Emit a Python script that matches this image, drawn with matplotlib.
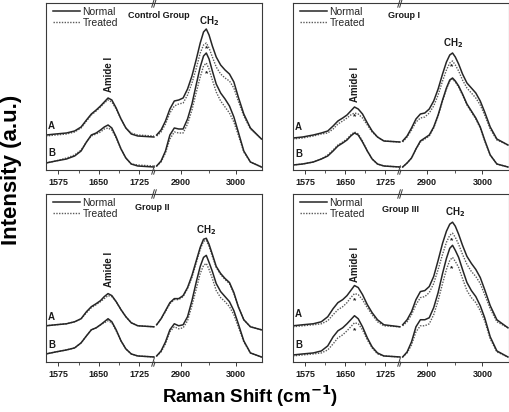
import matplotlib
matplotlib.use("Agg")
import matplotlib.pyplot as plt
from matplotlib.lines import Line2D

plt.rcParams['font.family'] = ['Liberation Sans', 'DejaVu Sans']

# ---------------- data ----------------
xl = [1552, 1570, 1590, 1605, 1617, 1627, 1636, 1645, 1653, 1660, 1667, 1674,
      1682, 1691, 1700, 1710, 1722, 1752]
xr = [2856, 2864, 2872, 2880, 2888, 2896, 2904, 2912, 2920, 2928, 2935, 2941,
      2946, 2951, 2957, 2964, 2972, 2980, 2988, 2996, 3004, 3014, 3026, 3046]

# Control Group
ctrl_A_norm_l = [35, 36, 37, 39, 43, 50, 56, 60, 64, 68, 72, 70, 62, 51, 42, 36, 34, 33]
ctrl_A_trt_l  = [34, 35, 36, 38, 42, 49, 55, 59, 63, 67, 70, 68, 61, 51, 42, 37, 35, 34]
ctrl_B_norm_l = [7, 9, 11, 14, 19, 28, 35, 37, 40, 43, 45, 42, 33, 21, 12, 6, 4, 3]
ctrl_B_trt_l  = [7, 9, 12, 15, 20, 28, 34, 36, 38, 41, 42, 40, 32, 21, 12, 6, 5, 4]
ctrl_A_norm_r = [35, 40, 49, 61, 69, 70, 72, 81, 94, 111, 127, 138, 141, 135, 124, 113,
                 105, 100, 96, 88, 73, 56, 42, 31]
ctrl_A_trt_r  = [34, 38, 46, 57, 64, 66, 67, 75, 87, 102, 117, 125, 127, 122, 113, 103,
                 96, 92, 89, 82, 69, 54, 41, 31]
ctrl_B_norm_r = [4, 9, 19, 35, 42, 41, 41, 51, 66, 86, 103, 114, 117, 111, 99, 86,
                 77, 71, 64, 53, 38, 19, 8, 3]
ctrl_B_trt_r  = [4, 8, 17, 31, 38, 37, 37, 46, 60, 78, 93, 104, 107, 101, 90, 78,
                 69, 63, 57, 48, 35, 18, 8, 3]

# Group I
g1_A_norm_l = [32, 33, 35, 37, 39, 44, 49, 52, 55, 59, 63, 61, 56, 47, 39, 33, 29, 28]
g1_A_trt_l  = [31, 32, 34, 36, 37, 41, 46, 49, 52, 55, 57, 56, 52, 45, 38, 33, 29, 28]
g1_B_norm_l = [5, 6, 8, 11, 14, 19, 24, 27, 30, 34, 37, 35, 28, 19, 11, 6, 4, 3]
g1_B_trt_l  = [5, 6, 8, 11, 15, 20, 25, 28, 31, 35, 38, 36, 29, 19, 11, 6, 4, 3]
g1_A_norm_r = [29, 34, 42, 51, 56, 57, 61, 69, 81, 96, 108, 115, 117, 113, 106, 96,
               87, 82, 77, 69, 58, 43, 31, 25]
g1_A_trt_r  = [28, 33, 40, 48, 52, 53, 57, 64, 75, 89, 100, 107, 109, 105, 99, 90,
               82, 77, 72, 65, 55, 41, 30, 25]
g1_B_norm_r = [3, 7, 12, 21, 29, 32, 35, 43, 55, 70, 82, 90, 92, 89, 84, 76,
               66, 59, 52, 43, 30, 15, 6, 3]
g1_B_trt_r  = [3, 7, 12, 21, 28, 31, 34, 42, 54, 69, 81, 89, 91, 88, 83, 75,
               65, 58, 51, 42, 29, 15, 6, 3]

# Group II
g2_A_norm_l = [36, 37, 38, 40, 43, 50, 55, 58, 61, 65, 68, 66, 60, 52, 45, 39, 36, 35]
g2_A_trt_l  = [36, 37, 38, 40, 43, 49, 54, 57, 60, 63, 66, 65, 60, 52, 45, 39, 36, 35]
g2_B_norm_l = [8, 10, 12, 14, 19, 26, 32, 34, 37, 40, 43, 40, 32, 21, 13, 8, 6, 5]
g2_B_trt_l  = [8, 10, 12, 14, 19, 26, 32, 34, 37, 39, 41, 39, 31, 21, 13, 8, 6, 5]
g2_A_norm_r = [37, 43, 51, 59, 63, 63, 66, 74, 86, 101, 114, 122, 123, 117, 107, 95,
               88, 83, 79, 69, 55, 42, 35, 32]
g2_A_trt_r  = [37, 43, 50, 58, 62, 62, 65, 73, 84, 99, 112, 120, 121, 115, 105, 94,
               87, 82, 78, 68, 55, 42, 35, 32]
g2_B_norm_r = [6, 11, 20, 32, 38, 36, 37, 45, 61, 80, 95, 104, 106, 99, 90, 78,
               70, 65, 60, 51, 38, 21, 9, 5]
g2_B_trt_r  = [6, 10, 18, 30, 35, 33, 34, 41, 56, 73, 88, 96, 98, 92, 83, 71,
               64, 60, 55, 47, 35, 20, 9, 5]

# Group III
g3_A_norm_l = [36, 37, 38, 40, 45, 53, 59, 62, 66, 71, 76, 74, 67, 57, 49, 42, 37, 35]
g3_A_trt_l  = [35, 36, 37, 38, 41, 47, 52, 55, 59, 64, 68, 67, 62, 54, 47, 40, 36, 35]
g3_B_norm_l = [7, 8, 9, 11, 16, 25, 31, 34, 38, 42, 46, 43, 35, 24, 15, 9, 6, 5]
g3_B_trt_l  = [6, 7, 8, 9, 12, 18, 24, 27, 31, 35, 39, 38, 32, 22, 14, 8, 6, 5]
g3_A_norm_r = [37, 42, 50, 62, 70, 71, 75, 85, 101, 118, 130, 137, 139, 135, 127, 116,
               105, 98, 92, 84, 72, 56, 42, 34]
g3_A_trt_r  = [36, 40, 47, 57, 64, 65, 69, 78, 92, 107, 119, 126, 128, 124, 117, 107,
               97, 90, 85, 78, 67, 53, 40, 34]
g3_B_norm_r = [5, 10, 20, 35, 42, 42, 44, 54, 69, 88, 103, 113, 116, 111, 104, 92,
               79, 71, 65, 56, 44, 25, 11, 5]
g3_B_trt_r  = [5, 9, 17, 30, 36, 36, 38, 47, 61, 78, 92, 101, 104, 100, 94, 83,
               71, 64, 59, 51, 41, 23, 10, 5]

group_titles = ["Control Group", "Group I", "Group II", "Group III"]
left_ticks = [1575, 1650, 1725]
right_ticks = [2900, 3000]

# ---------------- layout ----------------
W, H = 509, 412
fig = plt.figure(figsize=(W / 100, H / 100), dpi=100)

def px_axes(l, t, r, b):
    return fig.add_axes([l / W, 1 - b / H, (r - l) / W, (b - t) / H])

panels = [
    dict(l=46, r=262, t=3, b=170, brk=155),
    dict(l=293, r=508.5, t=3, b=170, brk=401),
    dict(l=46, r=262, t=194, b=362, brk=155),
    dict(l=293, r=508.5, t=194, b=362, brk=401),
]

data = [
    (ctrl_A_norm_l, ctrl_A_trt_l, ctrl_B_norm_l, ctrl_B_trt_l,
     ctrl_A_norm_r, ctrl_A_trt_r, ctrl_B_norm_r, ctrl_B_trt_r),
    (g1_A_norm_l, g1_A_trt_l, g1_B_norm_l, g1_B_trt_l,
     g1_A_norm_r, g1_A_trt_r, g1_B_norm_r, g1_B_trt_r),
    (g2_A_norm_l, g2_A_trt_l, g2_B_norm_l, g2_B_trt_l,
     g2_A_norm_r, g2_A_trt_r, g2_B_norm_r, g2_B_trt_r),
    (g3_A_norm_l, g3_A_trt_l, g3_B_norm_l, g3_B_trt_l,
     g3_A_norm_r, g3_A_trt_r, g3_B_norm_r, g3_B_trt_r),
]

# annotation placements (layout only)
title_pos = [(128, 16), (388, 16), (135, 207), (382, 209)]
amide_y = [78, 68, 75, 80]
ch2_pos = [(2951, 149), (2947, 127), (2945, 131), (2950, 149)]
ab_y = [(44, 17), (43, 16), (45, 17), (48, 17)]
stars = [
    [("r", 2946, 121), ("r", 2946, 96)],
    [("l", 1667, 53), ("r", 2945, 103)],
    [],
    [("l", 1667, 61), ("l", 1667, 31), ("r", 2945, 121), ("r", 2945, 93)],
]

norm_kw = dict(color='#262626', lw=1.1, ls='-', solid_joinstyle='round')
trt_kw = dict(color='#5a5a5a', lw=1.0, ls=(0, (1, 1)))
spine_c = '#3a3a3a'
tick_fs = 6.5

for i, p in enumerate(panels):
    axl = px_axes(p['l'], p['t'], p['brk'], p['b'])
    axr = px_axes(p['brk'], p['t'], p['r'], p['b'])
    an_l, at_l, bn_l, bt_l, an_r, at_r, bn_r, bt_r = data[i]
    axl.plot(xl, at_l, **trt_kw)
    axl.plot(xl, bt_l, **trt_kw)
    axl.plot(xl, an_l, **norm_kw)
    axl.plot(xl, bn_l, **norm_kw)
    axr.plot(xr, at_r, **trt_kw)
    axr.plot(xr, bt_r, **trt_kw)
    axr.plot(xr, an_r, **norm_kw)
    axr.plot(xr, bn_r, **norm_kw)

    axl.set_xlim(1552, 1754)
    axr.set_xlim(2853, 3047)
    axl.set_xticks(left_ticks)
    axl.set_xticks([1612.5, 1687.5], minor=True)
    axr.set_xticks(right_ticks)
    axr.set_xticks([2950], minor=True)
    for ax in (axl, axr):
        ax.set_ylim(0, 167)
        ax.set_yticks([])
        for s in ax.spines.values():
            s.set_color(spine_c)
            s.set_linewidth(0.8)
        ax.tick_params(axis='x', direction='out', length=3, width=0.7,
                       colors=spine_c, labelsize=tick_fs, pad=3,
                       labelcolor='#1a1a1a')
        ax.tick_params(axis='x', which='minor', direction='out', length=2,
                       width=0.6, colors=spine_c)
        for lab in ax.get_xticklabels():
            lab.set_fontweight('bold')
    axl.spines['right'].set_visible(False)
    axr.spines['left'].set_visible(False)

    # break marks
    for yy in (0, 1):
        for dx in (-0.018, 0.0):
            axl.plot([1 + dx - 0.012, 1 + dx + 0.012], [yy - 0.025, yy + 0.025],
                     transform=axl.transAxes, color=spine_c, lw=0.7,
                     clip_on=False)

    # labels
    fig.text(title_pos[i][0] / W, 1 - title_pos[i][1] / H, group_titles[i],
             fontsize=6.5, fontweight='bold', ha='left', va='center',
             color='#1a1a1a')
    axl.text(1668, amide_y[i], "Amide I", rotation=90, ha='center',
             va='bottom', fontsize=7, fontweight='bold', color='#1a1a1a')
    axr.text(ch2_pos[i][0], ch2_pos[i][1], r"CH$_\mathbf{2}$", ha='center',
             va='center', fontsize=7, fontweight='bold', color='#1a1a1a')
    axl.text(1556, ab_y[i][0], "A", fontsize=7, fontweight='bold',
             ha='left', va='center', color='#1a1a1a')
    axl.text(1556, ab_y[i][1], "B", fontsize=7, fontweight='bold',
             ha='left', va='center', color='#1a1a1a')
    for side, sx, sy in stars[i]:
        ax = axl if side == 'l' else axr
        ax.text(sx, sy, "*", fontsize=6, fontweight='bold', ha='center',
                va='center', color='#1a1a1a')

    handles = [Line2D([], [], **norm_kw), Line2D([], [], **trt_kw)]
    axl.legend(handles, ["Normal", "Treated"], loc='upper left',
               bbox_to_anchor=(0.0, 1.02), frameon=False, fontsize=7.5,
               handlelength=2.6, handletextpad=0.2, labelspacing=0.1,
               borderaxespad=0.3, labelcolor='#262626')

fig.text(250 / W, 1 - 396 / H, r"Raman Shift (cm$^{\mathbf{-1}}$)",
         fontsize=13.5, fontweight='bold', ha='center', va='center')
fig.text(12 / W, 1 - 170 / H, "Intensity (a.u.)", rotation=90,
         fontsize=16, fontweight='bold', ha='center', va='center')

fig.savefig("out.png", dpi=100)
